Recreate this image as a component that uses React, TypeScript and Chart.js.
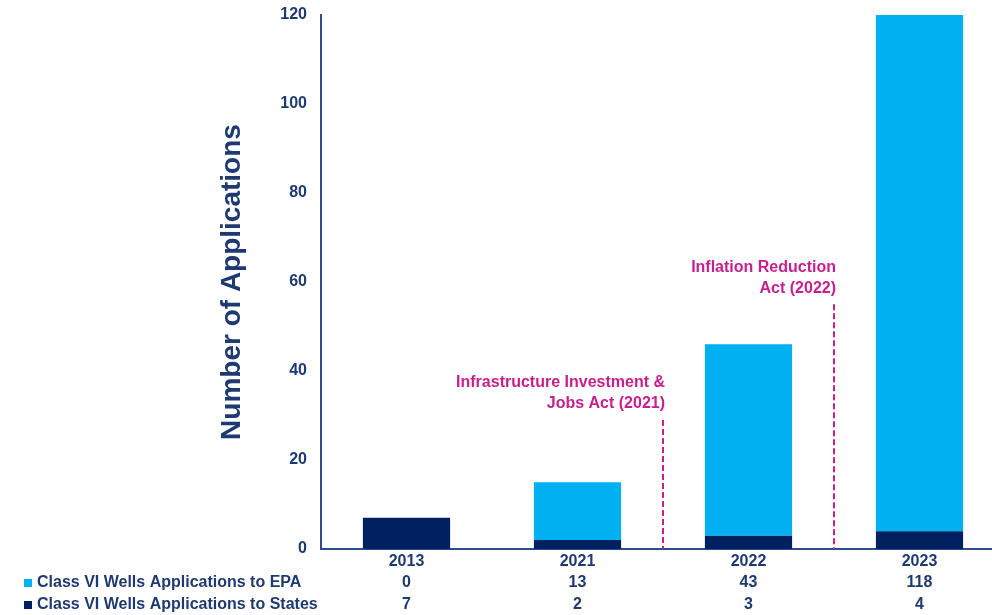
import React, { useEffect, useRef } from "react";
import { Chart, registerables } from "chart.js";

Chart.register(...registerables);

// Application counts per year
const years = ["2013", "2021", "2022", "2023"];
const toStates = [7, 2, 3, 4];
const toEPA = [0, 13, 43, 118];
const seriesNames = [
  "Class VI Wells Applications to EPA",
  "Class VI Wells Applications to States",
];

// Policy milestones: dashed marker placed after a category, reaching up to a value
const milestoneAfter = [1, 2];
const milestoneTop = [29, 55];
const milestoneText = [
  ["Infrastructure Investment &", "Jobs Act (2021)"],
  ["Inflation Reduction", "Act (2022)"],
];

const NAVY_TEXT = "#1f3a70";
const AXIS = "#2e4b8b";
const DARK = "#002060";
const LIGHT = "#00b0f0";
const MAGENTA = "#c81e8e";
const FONT = "'Liberation Sans', Arial, sans-serif";

const overlay = {
  id: "overlay",
  afterDraw(chart: any) {
    const ctx = chart.ctx;
    const x = chart.scales.x;
    const y = chart.scales.y;
    const area = chart.chartArea;
    ctx.save();

    // axis title
    ctx.save();
    ctx.translate(232, (area.top + area.bottom) / 2);
    ctx.rotate(-Math.PI / 2);
    ctx.fillStyle = NAVY_TEXT;
    ctx.font = `bold 28px ${FONT}`;
    ctx.textAlign = "center";
    ctx.textBaseline = "middle";
    ctx.fillText("Number of Applications", 0, 0);
    ctx.restore();

    // milestone markers
    milestoneAfter.forEach((idx, i) => {
      const px = (x.getPixelForValue(idx) + x.getPixelForValue(idx + 1)) / 2;
      const topPx = y.getPixelForValue(milestoneTop[i]);
      ctx.strokeStyle = MAGENTA;
      ctx.lineWidth = 2;
      ctx.setLineDash([6, 3]);
      ctx.beginPath();
      ctx.moveTo(px, topPx);
      ctx.lineTo(px, area.bottom);
      ctx.stroke();
      ctx.setLineDash([]);
      ctx.fillStyle = MAGENTA;
      ctx.font = `bold 16px ${FONT}`;
      ctx.textAlign = "right";
      ctx.textBaseline = "middle";
      const lines = milestoneText[i];
      lines.forEach((t, k) => {
        const ly = topPx - 16 - (lines.length - 1 - k) * 21;
        ctx.fillText(t, px + 2, ly);
      });
    });

    // data table under the axis
    ctx.fillStyle = NAVY_TEXT;
    ctx.font = `bold 16px ${FONT}`;
    ctx.textAlign = "center";
    ctx.textBaseline = "middle";
    years.forEach((yr, i) => {
      const cx = x.getPixelForValue(i);
      ctx.fillText(yr, cx, 562);
      ctx.fillText(String(toEPA[i]), cx, 583);
      ctx.fillText(String(toStates[i]), cx, 605);
    });

    const rows = [
      { name: seriesNames[0], color: LIGHT, yy: 583 },
      { name: seriesNames[1], color: DARK, yy: 605 },
    ];
    rows.forEach((r) => {
      ctx.fillStyle = r.color;
      ctx.fillRect(24, r.yy - 4, 8, 8);
      ctx.fillStyle = NAVY_TEXT;
      ctx.textAlign = "left";
      ctx.fillText(r.name, 37, r.yy);
    });

    ctx.restore();
  },
};

export default function App() {
  const ref = useRef<HTMLCanvasElement>(null);

  useEffect(() => {
    if (!ref.current) return;
    const chart = new Chart(ref.current, {
      type: "bar",
      data: {
        labels: years,
        datasets: [
          {
            label: seriesNames[1],
            data: toStates,
            backgroundColor: DARK,
            barPercentage: 0.51,
            categoryPercentage: 1,
          },
          {
            label: seriesNames[0],
            data: toEPA,
            backgroundColor: LIGHT,
            barPercentage: 0.51,
            categoryPercentage: 1,
          },
        ],
      },
      options: {
        responsive: false,
        animation: false,
        devicePixelRatio: 1,
        layout: { padding: { top: 15, left: 0, right: 5, bottom: 0 } },
        plugins: {
          legend: { display: false },
          tooltip: { enabled: false },
        },
        scales: {
          x: {
            stacked: true,
            grid: { display: false },
            border: { display: true, color: AXIS, width: 2 },
            ticks: { display: false },
            afterFit: (s: any) => {
              s.height = 66;
              s.paddingLeft = 0;
              s.paddingRight = 0;
            },
          },
          y: {
            stacked: true,
            min: 0,
            max: 120,
            grid: { display: false, drawTicks: false },
            border: { display: true, color: AXIS, width: 2 },
            ticks: {
              stepSize: 20,
              padding: 14,
              color: NAVY_TEXT,
              font: { family: FONT, size: 16, weight: "bold" },
            },
            afterFit: (s: any) => {
              s.width = 321;
              s.paddingTop = 0;
              s.paddingBottom = 0;
            },
          },
        },
      },
      plugins: [overlay],
    });
    return () => chart.destroy();
  }, []);

  return (
    <div
      style={{
        position: "fixed",
        left: 0,
        top: 0,
        width: 992,
        height: 615,
        overflow: "hidden",
        background: "#fff",
      }}
    >
      <canvas ref={ref} width={1010} height={615} style={{ display: "block" }} />
    </div>
  );
}
